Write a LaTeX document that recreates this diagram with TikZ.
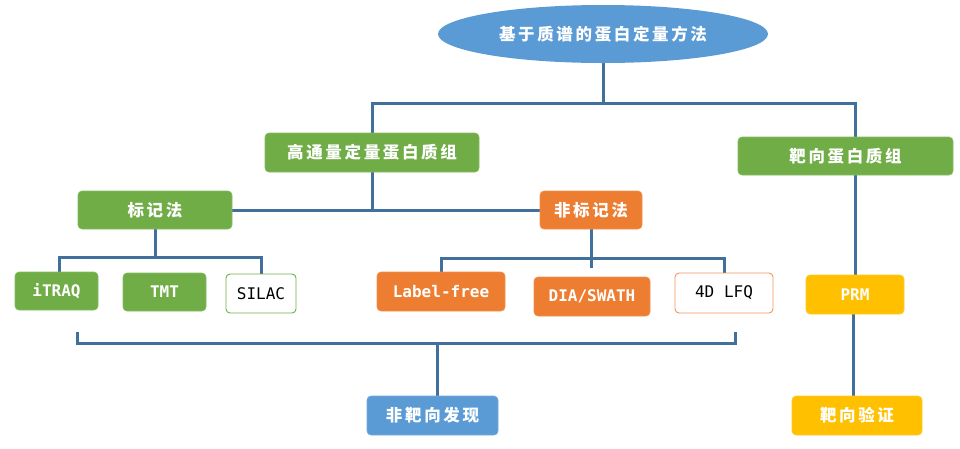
\documentclass[tikz,border=0pt]{standalone}
\usepackage{fontspec}
\usetikzlibrary{shapes.geometric,backgrounds}
\newfontfamily\cjk[LetterSpace=16]{Noto Sans CJK SC}
\newfontfamily\monof{DejaVu Sans Mono}
\definecolor{cblue}{HTML}{5B9BD5}
\definecolor{cgreen}{HTML}{70AD47}
\definecolor{corange}{HTML}{ED7D31}
\definecolor{cyellow}{HTML}{FFC000}
\definecolor{cline}{HTML}{41709C}
\tikzset{
  basebox/.style={rectangle, rounded corners=4pt, inner sep=0pt, line width=0.6pt},
  gbox/.style={basebox, fill=cgreen, draw=cgreen!85!white, text=white, font=\cjk\bfseries\fontsize{16.5}{18}\selectfont},
  obox/.style={basebox, fill=corange, draw=corange!85!white, text=white, font=\cjk\bfseries\fontsize{16.5}{18}\selectfont},
  ybox/.style={basebox, fill=cyellow, draw=cyellow!85!white, text=white, font=\cjk\bfseries\fontsize{16.5}{18}\selectfont},
  bbox/.style={basebox, fill=cblue, draw=cblue!85!white, text=white, font=\cjk\bfseries\fontsize{16.5}{18}\selectfont},
  latg/.style={basebox, fill=cgreen, draw=cgreen!85!white, text=white, font=\monof\bfseries\fontsize{16}{18}\selectfont},
  lato/.style={basebox, fill=corange, draw=corange!85!white, text=white, font=\monof\bfseries\fontsize{16}{18}\selectfont},
  laty/.style={basebox, fill=cyellow, draw=cyellow!85!white, text=white, font=\monof\bfseries\fontsize{16}{18}\selectfont},
  wg/.style={basebox, fill=white, draw=cgreen, line width=0.9pt, text=black, font=\monof\fontsize{16}{18}\selectfont},
  wo/.style={basebox, fill=white, draw=corange!80!white, line width=0.9pt, text=black, font=\monof\fontsize{16}{18}\selectfont},
  conn/.style={draw=cline, line width=3pt},
}
\begin{document}
\begin{tikzpicture}[x=1pt,y=-1pt]
\useasboundingbox (0,0) rectangle (960,448);
% nodes
\node[ellipse, fill=cblue, draw=none, inner sep=0pt, minimum width=330, minimum height=58, text=white, font=\cjk\bfseries\fontsize{16.5}{18}\selectfont] (top) at (603,34) {基于质谱的蛋白定量方法};
\node[gbox, minimum width=214, minimum height=39] (htp) at (372,152.5) {高通量定量蛋白质组};
\node[gbox, minimum width=215, minimum height=38] (tgt) at (845.5,156) {靶向蛋白质组};
\node[gbox, minimum width=154, minimum height=38] (bjf) at (155,210) {标记法};
\node[obox, minimum width=102, minimum height=38] (fbj) at (591,210) {非标记法};
\node[latg, minimum width=83, minimum height=38] (itraq) at (56.5,291) {iTRAQ};
\node[latg, minimum width=83, minimum height=38] (tmt) at (164.5,292) {TMT};
\node[wg, minimum width=70, minimum height=39] (silac) at (261,293.5) {SILAC};
\node[lato, minimum width=128, minimum height=39] (lf) at (441,291.5) {Label-free};
\node[lato, minimum width=116, minimum height=39] (dia) at (592,296.5) {DIA/SWATH};
\node[wo, minimum width=98, minimum height=40] (lfq) at (724,293) {4D LFQ};
\node[laty, minimum width=98, minimum height=39] (prm) at (855,294.5) {PRM};
\node[ybox, minimum width=130, minimum height=39] (yz) at (857,415.5) {靶向验证};
\node[bbox, minimum width=131, minimum height=39] (fx) at (432.5,415.5) {非靶向发现};
% junction coordinates
\coordinate (j1) at (603,103);
\coordinate (b1) at (155,257);
\coordinate (b2h) at (591,258);
\coordinate (b2) at (591,268);
\coordinate (bl) at (77,332);
\coordinate (bl2) at (77,343);
\coordinate (br2) at (735,343);
\coordinate (br) at (735,332);
\coordinate (fxt) at (437,343);
% connectors
\begin{scope}[on background layer]
\draw[conn] (top.south) -- (j1);
\draw[conn] (htp.north) |- (j1) -| (prm.north);
\draw[conn] (htp.south) -- (htp.south |- bjf.east);
\draw[conn] (bjf.east) -- (fbj.west);
\draw[conn] (bjf.south) -- (b1);
\draw[conn] ([xshift=2.5pt]itraq.north) |- (b1) -| (silac.north);
\draw[conn] (fbj.south) -- (b2);
\draw[conn] (lf.north) |- (b2h) -| (lfq.north);
\draw[conn] (bl) -- (bl2) -- (br2) -- (br);
\draw[conn] (fxt) -- (fxt |- fx.north);
\draw[conn] ([xshift=-2pt]prm.south) -- ([xshift=-4pt]yz.north);
\end{scope}
\end{tikzpicture}
\end{document}
